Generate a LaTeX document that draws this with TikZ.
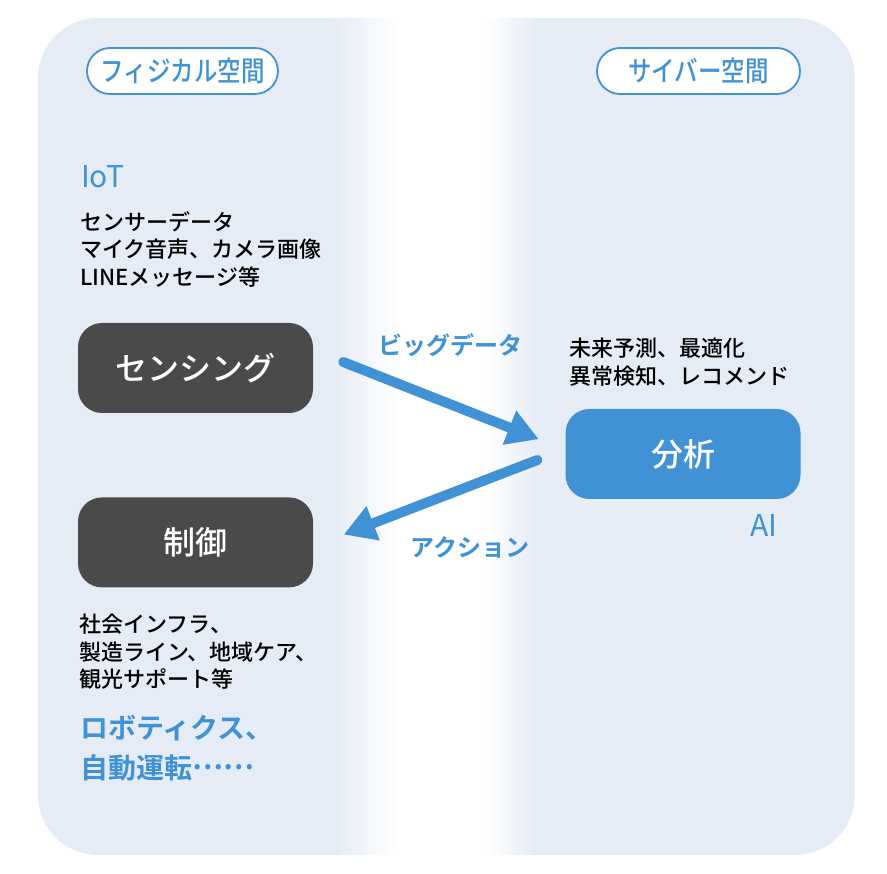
\documentclass[tikz,border=0pt]{standalone}
\usepackage{fontspec}
\setmainfont{Noto Sans CJK JP}[UprightFont={* Medium}, BoldFont={* Bold}]
\newfontfamily\latinlight{Noto Sans CJK JP}
\usepackage{tikz}
\usetikzlibrary{positioning,calc,arrows.meta}
\definecolor{panelbg}{HTML}{E6ECF6}
\definecolor{accent}{HTML}{4092D4}
\definecolor{boxgray}{HTML}{4A4A4A}

\tikzset{
  pill/.style={draw=accent, line width=1.8pt, fill=white, rounded corners=23pt, minimum height=46pt, text=accent, font=\fontsize{28}{30}\selectfont},
  darkbox/.style={fill=boxgray, text=white, rounded corners=24pt, minimum width=235pt, minimum height=90pt, font=\fontsize{32}{36}\selectfont},
  bluebox/.style={darkbox, fill=accent},
  note/.style={anchor=north west, inner sep=0pt, align=left, font=\fontsize{22}{27.5}\selectfont},
  tag/.style={text=accent, font=\latinlight\fontsize{30}{34}\selectfont},
  flowlabel/.style={text=accent, font=\fontsize{24}{28}\selectfont\bfseries},
  flow/.style={draw=accent, line width=10pt, line cap=round, -{Triangle[length=31pt,width=37pt,line width=0pt]}}
}

\begin{document}
\begin{tikzpicture}[x=1pt, y=-1pt, node distance=84pt]
    \useasboundingbox (0,0) rectangle (887,874);
    \begin{scope}
        \clip[rounded corners=60pt] (38,18) rectangle (855,855);
        \fill[panelbg] (38,18) rectangle (855,855);
        \shade[left color=panelbg, right color=white] (335,18) rectangle (398,855);
        \fill[white] (398,18) rectangle (485,855);
        \shade[left color=white, right color=panelbg] (485,18) rectangle (535,855);
    \end{scope}

    \node (physical) [pill, minimum width=191pt] at (182.5,71) {\scalebox{0.84}[1]{フィジカル空間}};
    \node (cyber) [pill, minimum width=203pt] at (698.5,71) {\scalebox{0.84}[1]{サイバー空間}};

    \node (iot) [tag, anchor=west, inner sep=0pt] at (81,177) {IoT};
    \node (iotlist) [note] at (80,211) {センサーデータ\\マイク音声、カメラ画像\\LINEメッセージ等};

    \node (sensing) [darkbox] at (195.5,368) {センシング};
    \node (control) [darkbox, below=84pt of sensing] {制御};
    \node (analysis) [bluebox] at (683,454) {分析};

    \node (ailist) [note] at (569,338) {未来予測、最適化\\異常検知、レコメンド};
    \node (ai) [tag] at (764,526) {AI};

    \node (ctrllist) [note] at (79,614) {社会インフラ、\\製造ライン、地域ケア、\\観光サポート等};
    \node (robot) [note, text=accent, font=\fontsize{28}{40}\selectfont\bfseries] at (80,715) {ロボティクス、\\自動運転\raisebox{0.32em}{……}};

    \node (bigdata) [flowlabel] at (450,345) {ビッグデータ};
    \node (action) [flowlabel] at (470,547) {アクション};

    \coordinate (bdfrom) at ($(sensing.east)+(30,-6)$);
    \coordinate (bdto) at ($(analysis.west)+(-27,-15)$);
    \coordinate (acfrom) at ($(analysis.west)+(-28,6)$);
    \coordinate (acto) at ($(control.east)+(31,-8)$);
    \draw[flow] (bdfrom) -- (bdto);
    \draw[flow] (acfrom) -- (acto);
\end{tikzpicture}
\end{document}
